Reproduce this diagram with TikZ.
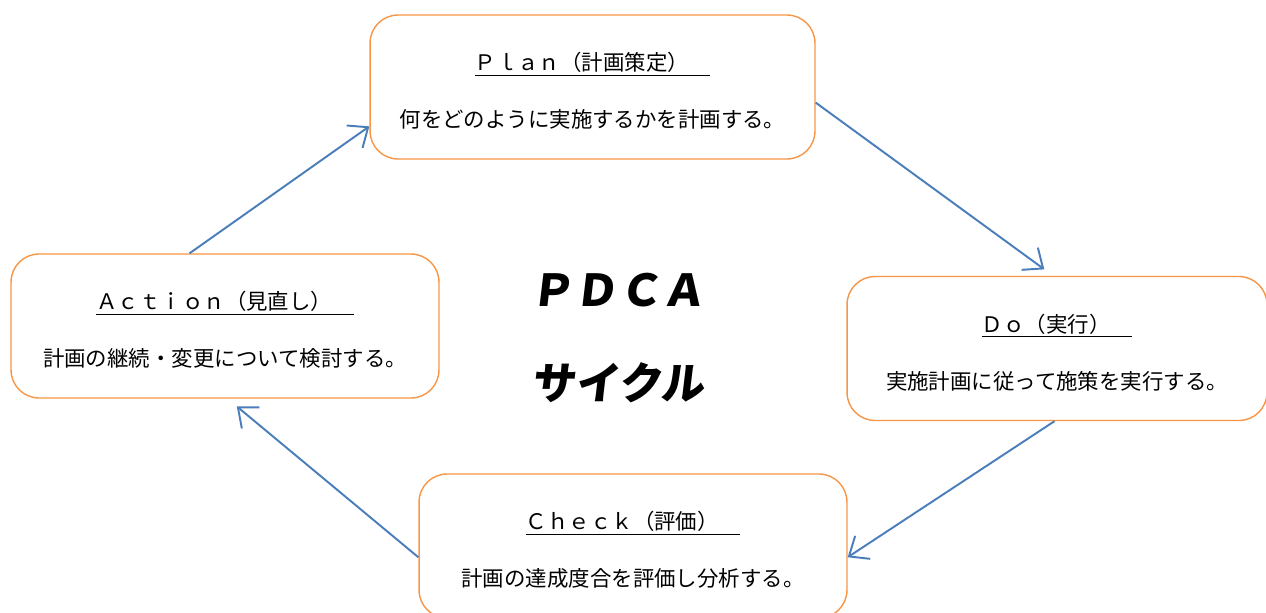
\documentclass[tikz,border=0pt]{standalone}
\usepackage{fontspec}
\setmainfont{Noto Sans CJK JP}
\newfontfamily\popfont[FakeSlant=0.12]{Noto Sans CJK JP Black}
\usetikzlibrary{arrows.meta}
\definecolor{boxorange}{RGB}{247,150,70}
\definecolor{arrowblue}{RGB}{74,126,187}
\newcommand{\steptitle}[1]{\rule{0pt}{15pt}\underline{#1　}}

\begin{document}
\begin{tikzpicture}[x=0.02cm,y=-0.02cm,
  stepbox/.style={draw=boxorange,line width=0.8pt,rounded corners=0.56cm,fill=white,
    align=center,minimum height=2.88cm,inner sep=0pt,font=\fontsize{12.2}{15}\selectfont},
  cyc/.style={draw=arrowblue,line width=1.1pt,-{Straight Barb[length=3.3mm,width=5.5mm]}},
  bigtext/.style={font=\popfont\fontsize{25}{30}\selectfont}]
  \useasboundingbox (0,0) rectangle (1266,612);
  % the four steps
  \node[stepbox,minimum width=8.9cm] (plan) at (592.5,87)
    {\steptitle{Ｐｌａｎ（計画策定）}\\[17.5pt]何をどのように実施するかを計画する。};
  \node[stepbox,minimum width=8.4cm] (do) at (1057,348.5)
    {\steptitle{Ｄｏ（実行）}\\[17.5pt]実施計画に従って施策を実行する。};
  \node[stepbox,minimum width=8.56cm] (check) at (633,546)
    {\steptitle{Ｃｈｅｃｋ（評価）}\\[17.5pt]計画の達成度合を評価し分析する。};
  \node[stepbox,minimum width=8.56cm] (act) at (225,326)
    {\steptitle{Ａｃｔｉｏｎ（見直し）}\\[17.5pt]計画の継続・変更について検討する。};
  % centre text
  \node[bigtext] (pdca) at (618,290) {ＰＤＣＡ};
  \node[bigtext] (cycle) at (618,383) {サイクル};
  % arrows
  \draw[cyc] (act.116) -- (plan.190);
  \draw[cyc,shorten >=0.22cm] (plan.-4.6) -- (do.93);
  \draw[cyc] (do.268.4) -- (check.-3.2);
  \draw[cyc,shorten >=0.24cm] (check.183.7) -- (act.272.4);
\end{tikzpicture}
\end{document}
